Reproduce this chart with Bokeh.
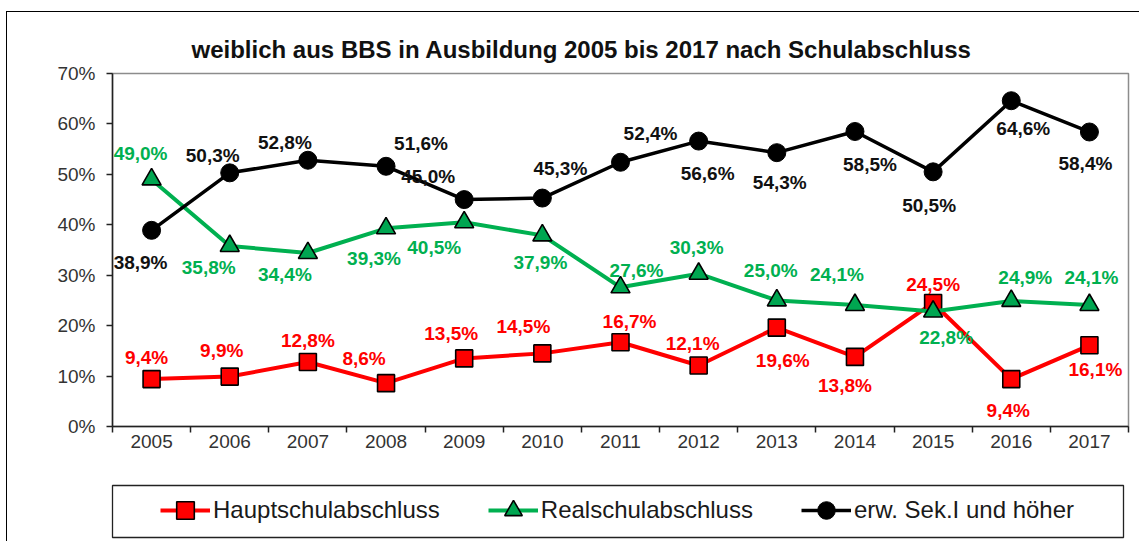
from bokeh.plotting import figure
from bokeh.layouts import column
from bokeh.models import FixedTicker, Legend, LegendItem, ColumnDataSource, LabelSet
from bokeh.core.properties import value
from bokeh.embed import file_html
from bokeh.resources import INLINE

# ---------------- data ----------------
years = [2005, 2006, 2007, 2008, 2009, 2010, 2011, 2012, 2013, 2014, 2015, 2016, 2017]
hauptschul = [9.4, 9.9, 12.8, 8.6, 13.5, 14.5, 16.7, 12.1, 19.6, 13.8, 24.5, 9.4, 16.1]
realschul = [49.0, 35.8, 34.4, 39.3, 40.5, 37.9, 27.6, 30.3, 25.0, 24.1, 22.8, 24.9, 24.1]
erw_sek = [38.9, 50.3, 52.8, 51.6, 45.0, 45.3, 52.4, 56.6, 54.3, 58.5, 50.5, 64.6, 58.4]
y_ticks = [0, 10, 20, 30, 40, 50, 60, 70]
y_tick_labels = ["0%", "10%", "20%", "30%", "40%", "50%", "60%", "70%"]
series_names = ["Hauptschulabschluss", "Realschulabschluss", "erw. Sek.I und höher"]
title_text = "weiblich  aus BBS in Ausbildung 2005 bis 2017 nach Schulabschluss"

# label placement (pixel offsets from the point, y measured downwards)
haupt_dx = [-5, -8, 0, -22, -13, -19, 9, -6, 6, -10, 0, -3, 6]
haupt_dy = [-22, -26, -21, -25, -25, -27, -21, -22, 33, 29, -18, 31, 24]
real_dx = [-11, -21, -23, -12, -30, -2, 16, -2, -6, -18, 13, 14, 2]
real_dy = [-26, 22, 21, 30, 25, 27, -17, -26, -30, -30, 26, -23, -27]
erw_dx = [-11, -17, -23, 35, -36, 18, 30, 9, 3, 15, -4, 12, -4]
erw_dy = [32, -17, -18, -23, -23, -30, -29, 32, 30, 33, 34, 28, 32]

FONT = "Liberation Sans"
RED = "#FF0000"
GREEN = "#00B050"
BLACK = "#000000"


def fmt(v):
    return ("%.1f%%" % v).replace(".", ",")


p = figure(frame_width=1016, frame_height=353,
           x_range=(2004.5, 2017.5), y_range=(0, 70),
           output_backend="svg", toolbar_location=None,
           min_border_left=104, min_border_right=12, min_border_top=61,
           min_border_bottom=44)

p.title.text = title_text
p.title.text_font = FONT
p.title.text_font_size = "24px"
p.title.text_font_style = "bold"
p.title.text_color = "#111111"
p.title.align = "left"
p.title.offset = 79
p.title.standoff = 22

p.xgrid.grid_line_color = None
p.ygrid.grid_line_color = None
p.outline_line_color = "#8c8c8c"
p.outline_line_width = 1.5
p.background_fill_color = "white"
p.border_fill_color = "white"

# x axis
xax = p.xaxis[0]
xax.ticker = FixedTicker(ticks=years, minor_ticks=[y - 0.5 for y in years] + [years[-1] + 0.5])
xax.major_tick_line_color = None
xax.major_tick_out = 6
xax.major_tick_in = 0
xax.minor_tick_line_color = "#222222"
xax.minor_tick_line_width = 1.5
xax.minor_tick_out = 6
xax.minor_tick_in = 0
xax.axis_line_color = "#222222"
xax.axis_line_width = 1.5
xax.major_label_text_font = FONT
xax.major_label_text_font_size = "19px"
xax.major_label_text_color = "#333333"
xax.major_label_standoff = 2

# y axis
yax = p.yaxis[0]
yax.ticker = FixedTicker(ticks=y_ticks)
yax.major_label_overrides = {t: l for t, l in zip(y_ticks, y_tick_labels)}
yax.major_tick_line_color = "#222222"
yax.major_tick_line_width = 1.5
yax.major_tick_out = 6
yax.major_tick_in = 0
yax.minor_tick_line_color = None
yax.axis_line_color = "#222222"
yax.axis_line_width = 1.5
yax.major_label_text_font = FONT
yax.major_label_text_font_size = "19px"
yax.major_label_text_color = "#333333"
yax.major_label_standoff = 11


def make_src(vals, dx, dy):
    return ColumnDataSource(dict(x=years, y=vals, t=[fmt(v) for v in vals],
                                 dx=dx, dy=[-d for d in dy]))


src_h = make_src(hauptschul, haupt_dx, haupt_dy)
src_r = make_src(realschul, real_dx, real_dy)
src_e = make_src(erw_sek, erw_dx, erw_dy)

styles = [
    (src_h, dict(line_color=RED, line_width=4),
     dict(marker="square", size=17, fill_color=RED, line_color="black", line_width=1.6)),
    (src_r, dict(line_color=GREEN, line_width=4),
     dict(marker="triangle", size=19, fill_color="#00A651", line_color="black", line_width=1.6)),
    (src_e, dict(line_color=BLACK, line_width=3.5),
     dict(marker="circle", size=18, fill_color=BLACK, line_color="black", line_width=1)),
]

for src, lkw, mkw in styles:
    p.line("x", "y", source=src, **lkw)
    p.scatter("x", "y", source=src, **mkw)

for src, col in [(src_h, RED), (src_r, GREEN), (src_e, "#111111")]:
    p.add_layout(LabelSet(x="x", y="y", text="t", source=src, x_offset="dx", y_offset="dy",
                          text_align="center", text_baseline="middle",
                          text_font=value(FONT), text_font_size="19px", text_font_style="bold",
                          text_color=col))

# ---------------- legend box (separate small panel below the chart) ----------------
lg = figure(frame_width=1011, frame_height=52, x_range=(0, 1), y_range=(0, 1),
            x_axis_type=None, y_axis_type=None,
            output_backend="svg", toolbar_location=None,
            min_border_left=105, min_border_right=16, min_border_top=15,
            min_border_bottom=4)
lg.outline_line_color = "#222222"
lg.outline_line_width = 1.3
lg.grid.visible = False
lg.background_fill_color = "white"
lg.border_fill_color = "white"

items = []
for (src, lkw, mkw), name in zip(styles, series_names):
    r1 = lg.line("x", "y", source=src, **lkw)      # data lies outside this panel's range
    r2 = lg.scatter("x", "y", source=src, **mkw)
    items.append(LegendItem(label=name, renderers=[r1, r2]))

legend = Legend(items=items, orientation="horizontal", location=(48, 5), margin=0,
                padding=0, glyph_width=50, glyph_height=44, label_standoff=3, spacing=48,
                label_text_font=FONT, label_text_font_size="24px",
                label_text_color="#1a1a1a", border_line_color=None,
                background_fill_alpha=0)
lg.add_layout(legend, "center")

layout = column(p, lg, spacing=0)
layout.styles = {"border-top": "1.5px solid black", "border-left": "1.5px solid black",
                 "margin-top": "11px", "margin-left": "6px"}

open("out.html", "w").write(file_html(layout, INLINE))
